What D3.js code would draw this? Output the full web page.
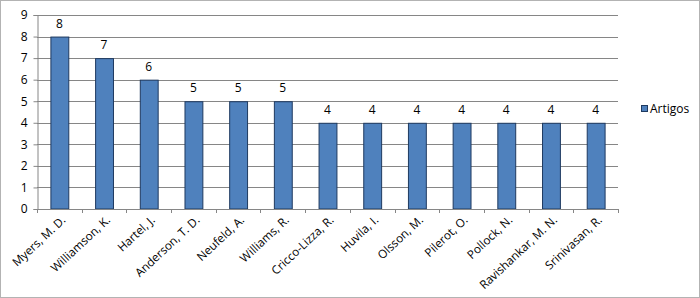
<!DOCTYPE html>
<html>
<head>
<meta charset="utf-8">
<script src="https://cdn.jsdelivr.net/npm/d3@7"></script>
<style>
  html, body { margin: 0; padding: 0; background: #fff; }
  text { font-family: "Open Sans", sans-serif; fill: #000; }
</style>
</head>
<body>
<div id="chart"></div>
<script>
const autores = ["Myers, M. D.", "Williamson, K.", "Hartel, J.", "Anderson, T. D.", "Neufeld, A.", "Williams, R.",
  "Cricco-Lizza, R.", "Huvila, I.", "Olsson, M.", "Pilerot, O.", "Pollock, N.", "Ravishankar, M. N.", "Srinivasan, R."];
const artigos = [8, 7, 6, 5, 5, 5, 4, 4, 4, 4, 4, 4, 4];
const yTicks = [0, 1, 2, 3, 4, 5, 6, 7, 8, 9];
const serie = "Artigos";

(() => {
  const width = 700, height = 298;
  const margin = { top: 15, right: 82, bottom: 89, left: 37 };
  const innerW = width - margin.left - margin.right;
  const innerH = height - margin.top - margin.bottom;

  const data = autores.map((a, i) => ({ autor: a, valor: artigos[i] }));

  const svg = d3.select("#chart").append("svg")
    .attr("width", width)
    .attr("height", height);

  // moldura externa
  svg.append("rect")
    .attr("x", 0.5).attr("y", 0.5)
    .attr("width", width - 1).attr("height", height - 1)
    .attr("fill", "#fff")
    .attr("stroke", "#b3b3b3");

  const x = d3.scaleBand()
    .domain(autores)
    .range([0, innerW])
    .paddingInner(0.6)
    .paddingOuter(0.3);

  const y = d3.scaleLinear()
    .domain([0, 9])
    .range([innerH, 0]);

  const chart = svg.append("g")
    .attr("transform", `translate(${margin.left},${margin.top})`);

  // grade
  chart.append("g")
    .selectAll("line")
    .data(yTicks.filter(d => d > 0))
    .enter().append("line")
    .attr("x1", 0).attr("x2", innerW)
    .attr("y1", d => Math.round(y(d)) + 0.5)
    .attr("y2", d => Math.round(y(d)) + 0.5)
    .attr("stroke", "#868686");

  // eixo y
  const yAxis = chart.append("g")
    .attr("transform", "translate(0.5,0)")
    .call(d3.axisLeft(y).tickValues(yTicks).tickSize(4).tickPadding(6));
  yAxis.select(".domain").attr("stroke", "#868686");
  yAxis.selectAll(".tick line").attr("stroke", "#868686");
  yAxis.selectAll(".tick text").style("font-size", "12px").style("font-family", "Open Sans, sans-serif");

  // barras
  chart.selectAll(".bar")
    .data(data)
    .enter().append("rect")
    .attr("class", "bar")
    .attr("x", d => x(d.autor) + 0.5)
    .attr("y", d => y(d.valor) + 0.5)
    .attr("width", x.bandwidth())
    .attr("height", d => innerH - y(d.valor) - 0.5)
    .attr("fill", "#4f81bd")
    .attr("stroke", "#1f3a60")
    .attr("stroke-width", 1);

  // rótulos
  chart.selectAll(".label")
    .data(data)
    .enter().append("text")
    .attr("class", "label")
    .attr("x", d => x(d.autor) + x.bandwidth() / 2)
    .attr("y", d => y(d.valor) - 9)
    .attr("text-anchor", "middle")
    .style("font-size", "12px")
    .text(d => d.valor);

  // eixo x
  const step = x.step();
  chart.append("line")
    .attr("x1", 0).attr("x2", innerW)
    .attr("y1", innerH + 0.5).attr("y2", innerH + 0.5)
    .attr("stroke", "#868686");
  chart.append("g")
    .selectAll("line")
    .data(d3.range(autores.length + 1))
    .enter().append("line")
    .attr("x1", i => Math.round(i * step) + 0.5)
    .attr("x2", i => Math.round(i * step) + 0.5)
    .attr("y1", innerH).attr("y2", innerH + 4)
    .attr("stroke", "#868686");

  chart.append("g")
    .selectAll("text")
    .data(autores)
    .enter().append("text")
    .attr("transform", d => `translate(${x(d) + x.bandwidth() / 2 + 7},${innerH + 12}) rotate(-43)`)
    .attr("text-anchor", "end")
    .style("font-size", "11.7px")
    .text(d => d);

  // legenda
  const legend = svg.append("g")
    .attr("transform", `translate(641,${margin.top + innerH / 2 - 7})`);
  legend.append("rect")
    .attr("x", 0.5).attr("y", 0.5)
    .attr("width", 6).attr("height", 6)
    .attr("fill", "#4f81bd")
    .attr("stroke", "#1f3a60");
  legend.append("text")
    .attr("x", 9)
    .attr("y", 4)
    .attr("dy", "0.35em")
    .style("font-size", "12px")
    .text(serie);
})();
</script>
</body>
</html>
